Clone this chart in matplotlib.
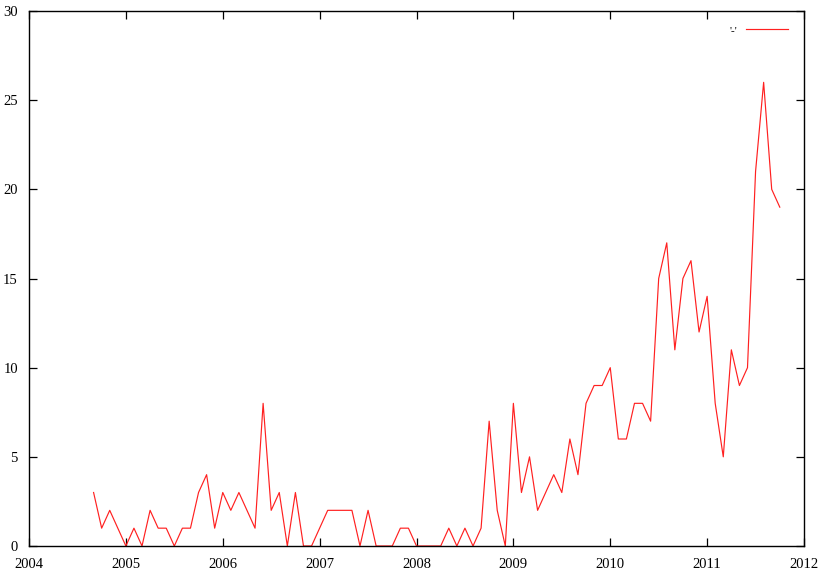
import matplotlib
matplotlib.use("Agg")
import matplotlib.pyplot as plt
import numpy as np

start_year = 2004
start_month = 9  # September 2004
values = [3, 1, 2, 1,
          0, 1, 0, 2, 1, 1, 0, 1, 1, 3, 4, 1,
          3, 2, 3, 2, 1, 8, 2, 3, 0, 3, 0, 0,
          1, 2, 2, 2, 2, 0, 2, 0, 0, 0, 1, 1,
          0, 0, 0, 0, 1, 0, 1, 0, 1, 7, 2, 0,
          8, 3, 5, 2, 3, 4, 3, 6, 4, 8, 9, 9,
          10, 6, 6, 8, 8, 7, 15, 17, 11, 15, 16, 12,
          14, 8, 5, 11, 9, 10, 21, 26, 20, 19]
x_ticks = [2004, 2005, 2006, 2007, 2008, 2009, 2010, 2011, 2012]
y_ticks = [0, 5, 10, 15, 20, 25, 30]
legend_label = "'-'"

x = [start_year + (start_month - 1 + i) / 12.0 for i in range(len(values))]

plt.rcParams['font.family'] = ['Liberation Serif', 'DejaVu Serif']

fig = plt.figure(figsize=(8.23, 5.76), dpi=100)
ax_w = (804 - 29) / 823
ax_h = (546 - 11) / 576
ax = fig.add_axes([29 / 823, 1 - 546 / 576, ax_w, ax_h])
ax.plot(x, values, color='#ff2020', lw=0.85, label=legend_label)
ax.set_xlim(2004, 2012)
ax.set_ylim(0, 30)
ax.set_xticks(x_ticks)
ax.set_yticks(y_ticks)
ax.set_xticklabels([str(t) for t in x_ticks])
ax.set_yticklabels([str(t) for t in y_ticks])
ax.tick_params(direction='in', length=6, width=0.9, top=True, right=True,
               labelsize=10.5, colors='black')
ax.tick_params(axis='x', pad=9)
ax.tick_params(axis='y', pad=8)
for s in ax.spines.values():
    s.set_linewidth(1.0)
    s.set_color('black')
leg = ax.legend(loc='upper right', frameon=False, markerfirst=False,
                handlelength=3.8, fontsize=8, borderaxespad=0,
                borderpad=0, handletextpad=0.75,
                bbox_to_anchor=(1 - 16 / 775, 1 - 14 / 535))
fig.savefig('out.png', dpi=100)
